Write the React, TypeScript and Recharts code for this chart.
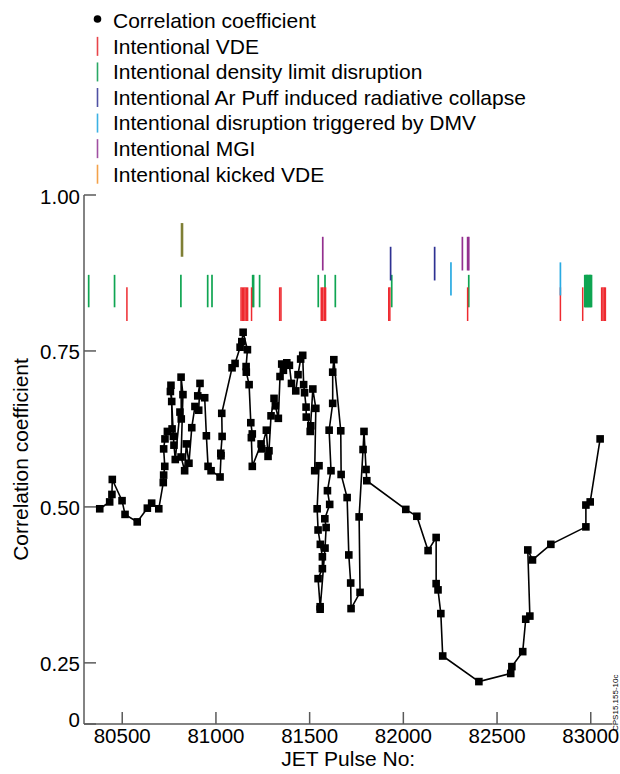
import React from "react";
import { ComposedChart, Line, XAxis, YAxis, ReferenceLine, ReferenceArea } from "recharts";

const FONT = '"Liberation Sans", Arial, Helvetica, sans-serif';

// correlation coefficient per pulse, in the order the line is drawn
const PULSE = [
  80380, 80433, 80445, 80447, 80499, 80515, 80580, 80634, 80657, 80695,
  80719, 80721, 80727, 80721, 80728, 80741, 80766, 80764, 80757, 80760,
  80773, 80776, 80783, 80808, 80815, 80814, 80824, 80814, 80833, 80842,
  80856, 80871, 80888, 80908, 80915, 80903, 80940, 80949, 80958, 80974,
  81022, 81027, 81026, 81033, 81031, 81086, 81102, 81129, 81138, 81145,
  81168, 81161, 81162, 81177, 81186, 81194, 81189, 81194,
  81241, 81244, 81269, 81278, 81283, 81294, 81310, 81317, 81333, 81342,
  81351, 81360, 81378, 81392, 81403, 81426, 81438, 81452, 81463, 81468,
  81473, 81481, 81482, 81506, 81503, 81517, 81533, 81527, 81550, 81540,
  81545, 81557, 81568, 81568, 81545, 81556, 81556, 81582, 81588, 81581,
  81607, 81595, 81614, 81604, 81623, 81623, 81629,
  81666, 81668, 81700, 81709, 81719, 81721, 81769, 81764, 81785, 81790,
  81801, 81805,
  82013, 82072, 82132, 82175, 82175, 82185, 82200, 82210, 82403, 82573,
  82579, 82637, 82653, 82675, 82664, 82689, 82787, 82974, 82974, 82997,
  83050,
];
const CORR = [
  0.497, 0.508, 0.52, 0.544, 0.51, 0.488, 0.476, 0.498, 0.506, 0.497,
  0.539, 0.551, 0.565, 0.593, 0.609, 0.621, 0.625, 0.669, 0.685, 0.695,
  0.613, 0.599, 0.576, 0.652, 0.641, 0.708, 0.68, 0.58, 0.558, 0.601,
  0.57, 0.627, 0.661, 0.655, 0.698, 0.678, 0.675, 0.614, 0.565, 0.558,
  0.548, 0.582, 0.586, 0.613, 0.65, 0.723, 0.73, 0.756, 0.765, 0.78,
  0.752, 0.725, 0.716, 0.696, 0.635, 0.617, 0.611, 0.565,
  0.601, 0.593, 0.623, 0.581, 0.59, 0.646, 0.674, 0.662, 0.642, 0.709,
  0.729, 0.719, 0.731, 0.727, 0.698, 0.686, 0.712, 0.737, 0.743, 0.696,
  0.683, 0.66, 0.644, 0.63, 0.621, 0.689, 0.658, 0.558, 0.566, 0.497,
  0.463, 0.44, 0.42, 0.401, 0.385, 0.34, 0.336, 0.434, 0.467, 0.481,
  0.504, 0.526, 0.558, 0.623, 0.666, 0.716, 0.736,
  0.622, 0.552, 0.515, 0.423, 0.378, 0.337, 0.363, 0.484, 0.592, 0.621,
  0.56, 0.542,
  0.496, 0.485, 0.43, 0.451, 0.377, 0.367, 0.329, 0.261, 0.22, 0.233,
  0.244, 0.268, 0.32, 0.325, 0.431, 0.415, 0.44, 0.468, 0.503, 0.508,
  0.609,
];

// intentional disruption pulses, by type
const VDE = [
  80525, 81134, 81141, 81148, 81155, 81162, 81169, 81190, 81340, 81347,
  81562, 81570, 81578, 81585, 81922, 81928, 82343, 82838, 82957,
  83058, 83065, 83072, 83078,
];
const DENSITY_LIMIT = [
  80321, 80459, 80813, 80956, 80979, 81196, 81201, 81233, 81546, 81582,
  81637, 81938, 82349, 82968, 82972, 82976, 82980, 82984, 82988, 82992,
  82996, 83000, 83004,
];
const AR_PUFF = [81932, 82167];
const DMV = [82254, 82838];
const MGI = [81570, 82315, 82343, 82349];
const KICKED_VDE = [80819];

// vertical extent of each marker row (correlation units)
const VDE_BAND = [0.798, 0.852];
const DENSITY_BAND = [0.82, 0.872];
const AR_BAND = [0.863, 0.917];
const DMV_BAND = [0.839, 0.892];
const MGI_BAND = [0.879, 0.933];
const KICKED_BAND = [0.901, 0.955];

const X_DOMAIN = [80296, 83116];
const X_TICKS = [80500, 81000, 81500, 82000, 82500, 83000];
const Y_DOMAIN = [0.152, 1.0];
const Y_TICKS = [0.152, 0.25, 0.5, 0.75, 1.0];
const Y_TICK_LABELS = ["0", "0.25", "0.50", "0.75", "1.00"];

const LEGEND = [
  { label: "Correlation coefficient", color: "#000", dot: true },
  { label: "Intentional VDE", color: "#e8454a" },
  { label: "Intentional density limit disruption", color: "#2aa865" },
  { label: "Intentional Ar Puff induced radiative collapse", color: "#4f51a3" },
  { label: "Intentional disruption triggered by DMV", color: "#3cb1e3" },
  { label: "Intentional MGI", color: "#a050a2" },
  { label: "Intentional kicked VDE", color: "#f3a24a" },
];

const data = PULSE.map((p, i) => ({ pulse: p, cc: CORR[i] }));

const markerGroups = [
  { pulses: DENSITY_LIMIT, band: DENSITY_BAND, color: "#0fa552", w: 1.7 },
  { pulses: VDE, band: VDE_BAND, color: "#ee2a30", w: 1.5 },
  { pulses: AR_PUFF, band: AR_BAND, color: "#2e3192", w: 1.7 },
  { pulses: DMV, band: DMV_BAND, color: "#2aaae2", w: 1.7 },
  { pulses: MGI, band: MGI_BAND, color: "#93308f", w: 1.7 },
  { pulses: KICKED_VDE, band: KICKED_BAND, color: "#7f7f35", w: 2.6 },
];

const AXIS = "#5a5a5a";

function YTick(props: any) {
  const { x, y, payload } = props;
  const i = Y_TICKS.indexOf(payload.value);
  const bottom = i === 0;
  return (
    <text x={x} y={y} dy={bottom ? 3 : 8.5} textAnchor="end" fontSize={20.5} fontFamily={FONT} fill="#000">
      {Y_TICK_LABELS[i]}
    </text>
  );
}

function XTick(props: any) {
  const { x, y, payload } = props;
  return (
    <text x={x} y={y} dy={14} textAnchor="middle" fontSize={20.5} fontFamily={FONT} fill="#000">
      {payload.value}
    </text>
  );
}

function SquareDot(props: any) {
  const { cx, cy, index } = props;
  if (cx == null || cy == null) return <g key={index} />;
  return <rect key={index} x={cx - 3.8} y={cy - 3.8} width={7.6} height={7.6} fill="#000" />;
}

export default function App() {
  return (
    <div style={{ position: "absolute", left: 0, top: 0, width: 620, height: 774, overflow: "hidden", background: "#fff", fontFamily: FONT }}>
      <svg width={620} height={190} style={{ position: "absolute", left: 0, top: 0 }}>
        {LEGEND.map((item, i) => {
          const baseline = 28.3 + i * 25.57;
          return item.dot ? (
            <circle key={item.label} cx={97.5} cy={baseline - 9.3} r={3.8} fill={item.color} />
          ) : (
            <line
              key={item.label}
              x1={97.5}
              x2={97.5}
              y1={baseline - 17}
              y2={baseline + 2}
              stroke={item.color}
              strokeWidth={1.6}
            />
          );
        })}
      </svg>
      {LEGEND.map((item, i) => {
        const baseline = 28.3 + i * 25.57;
        return (
          <div
            key={item.label}
            style={{
              position: "absolute",
              left: 113,
              top: baseline - 20.1,
              fontSize: 21,
              lineHeight: "25.6px",
              whiteSpace: "nowrap",
              color: "#000",
            }}
          >
            {item.label}
          </div>
        );
      })}
      <div style={{ position: "absolute", left: 0, top: 0 }}>
        <ComposedChart width={620} height={774} data={data} margin={{ top: 195, right: 7.5, bottom: 0, left: 0 }}>
          <XAxis
            dataKey="pulse"
            type="number"
            domain={X_DOMAIN}
            ticks={X_TICKS}
            interval={0}
            allowDataOverflow
            height={50}
            tickSize={-12}
            tickMargin={17}
            tick={<XTick />}
            axisLine={{ stroke: AXIS, strokeWidth: 1.5 }}
            tickLine={{ stroke: AXIS, strokeWidth: 1.5 }}
            label={{
              content: (p: any) => {
                const vb = p.viewBox;
                return (
                  <text x={vb.x + vb.width / 2} y={vb.y + 42} textAnchor="middle" fontSize={21} fontFamily={FONT} fill="#000">
                    JET Pulse No:
                  </text>
                );
              },
            }}
          />
          <YAxis
            type="number"
            domain={Y_DOMAIN}
            ticks={Y_TICKS}
            interval={0}
            allowDataOverflow
            width={84}
            tickSize={-12}
            tickMargin={16}
            tick={<YTick />}
            axisLine={{ stroke: AXIS, strokeWidth: 1.5 }}
            tickLine={{ stroke: AXIS, strokeWidth: 1.5 }}
            label={{
              content: (p: any) => {
                const vb = p.viewBox;
                const cx = vb.x + 28.3;
                const cy = vb.y + vb.height / 2;
                return (
                  <text
                    x={0}
                    y={0}
                    transform={`translate(${cx},${cy}) rotate(-90)`}
                    textAnchor="middle"
                    fontSize={21}
                    fontFamily={FONT}
                    fill="#000"
                  >
                    Correlation coefficient
                  </text>
                );
              },
            }}
          />
          <ReferenceArea fill="none" stroke={AXIS} strokeWidth={1.5} fillOpacity={0} />
          {markerGroups.flatMap((g, gi) =>
            g.pulses.map((p, pi) => (
              <ReferenceLine
                key={`m${gi}-${pi}`}
                segment={[
                  { x: p, y: g.band[0] },
                  { x: p, y: g.band[1] },
                ]}
                stroke={g.color}
                strokeWidth={g.w}
              />
            ))
          )}
          <Line
            dataKey="cc"
            type="linear"
            stroke="#000"
            strokeWidth={1.6}
            dot={(p: any) => <SquareDot {...p} />}
            activeDot={false}
            isAnimationActive={false}
          />
        </ComposedChart>
      </div>
      <div
        style={{
          position: "absolute",
          left: 611.5,
          top: 731,
          fontSize: 8,
          lineHeight: "8px",
          whiteSpace: "nowrap",
          transform: "rotate(-90deg)",
          transformOrigin: "0 0",
          color: "#000",
        }}
      >
        CPS15.155-10c
      </div>
    </div>
  );
}
